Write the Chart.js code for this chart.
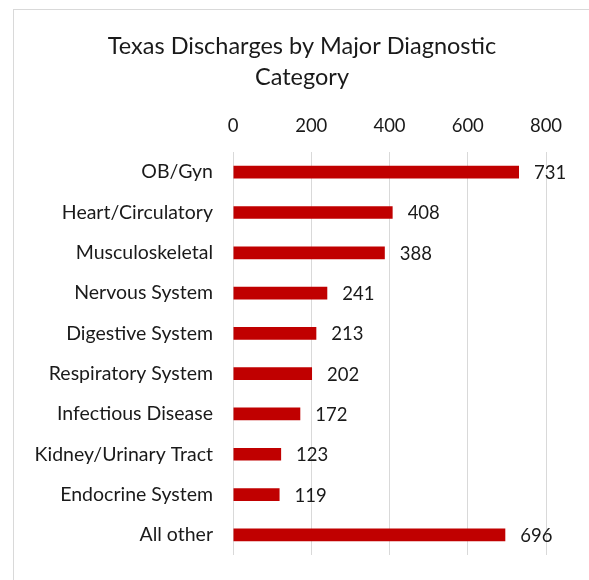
<!doctype html>
<html lang="en">
<head>
  <meta charset="utf-8">
  <title>Texas Discharges by Major Diagnostic Category</title>
  <style>
    html, body { margin: 0; padding: 0; background: #fff; overflow: hidden; }
    .frame {
      position: absolute; left: 13px; top: 9px;
      width: 576px; height: 590px;
      border: 1px solid #d9d9d9; background: #fff;
    }
  </style>
</head>
<body>
  <div class="frame">
    <canvas id="chart" width="576" height="590"></canvas>
  </div>

  <script src="https://cdn.jsdelivr.net/npm/chart.js"></script>
  <script>
    const categories = [
      'OB/Gyn', 'Heart/Circulatory', 'Musculoskeletal', 'Nervous System',
      'Digestive System', 'Respiratory System', 'Infectious Disease',
      'Kidney/Urinary Tract', 'Endocrine System', 'All other'
    ];
    const discharges = [731, 408, 388, 241, 213, 202, 172, 123, 119, 696];
    const xTicks = [0, 200, 400, 600, 800];

    const FONT = 'Lato, "Liberation Sans", sans-serif';
    const TEXT = '#1a1a1a';

    // value labels to the right of each bar
    const valueLabels = {
      id: 'valueLabels',
      afterDatasetsDraw(chart) {
        const ctx = chart.ctx;
        const meta = chart.getDatasetMeta(0);
        ctx.save();
        ctx.font = '18.5px ' + FONT;
        ctx.fillStyle = TEXT;
        ctx.textAlign = 'left';
        ctx.textBaseline = 'middle';
        meta.data.forEach((bar, i) => {
          ctx.fillText(String(discharges[i]), bar.x + 15, bar.y + 1);
        });
        ctx.restore();
      }
    };

    new Chart(document.getElementById('chart'), {
      type: 'bar',
      data: {
        labels: categories,
        datasets: [{
          data: discharges,
          backgroundColor: '#c00000',
          categoryPercentage: 1,
          barPercentage: 0.315
        }]
      },
      options: {
        indexAxis: 'y',
        responsive: false,
        animation: false,
        layout: { padding: { left: 0, right: 0, top: 0, bottom: 45 } },
        scales: {
          x: {
            position: 'top',
            min: 0,
            max: 800,
            afterBuildTicks(scale) {
              scale.ticks = xTicks.map(v => ({ value: v }));
            },
            afterFit(scale) { scale.height = 59.5; },
            grid: { color: '#d9d9d9', drawTicks: false, lineWidth: 1 },
            border: { display: false },
            ticks: {
              font: { family: FONT, size: 18.5 },
              color: TEXT,
              padding: 15
            }
          },
          y: {
            afterFit(scale) { scale.width = 219; },
            grid: { display: false, drawTicks: false },
            border: { display: false },
            ticks: {
              font: { family: FONT, size: 19.5 },
              color: TEXT,
              padding: 20
            }
          },
          // empty right axis: keeps room for the value labels
          spacer: {
            axis: 'y',
            position: 'right',
            afterFit(scale) { scale.width = 44; },
            grid: { display: false, drawTicks: false },
            border: { display: false },
            ticks: { display: false }
          }
        },
        plugins: {
          legend: { display: false },
          tooltip: { enabled: false },
          title: {
            display: true,
            text: ['Texas Discharges by Major Diagnostic', 'Category'],
            color: TEXT,
            font: { family: FONT, size: 23.5, weight: 'normal', lineHeight: 1.32 },
            padding: { top: 20.5, bottom: 0 }
          }
        }
      },
      plugins: [valueLabels]
    });
  </script>
</body>
</html>
